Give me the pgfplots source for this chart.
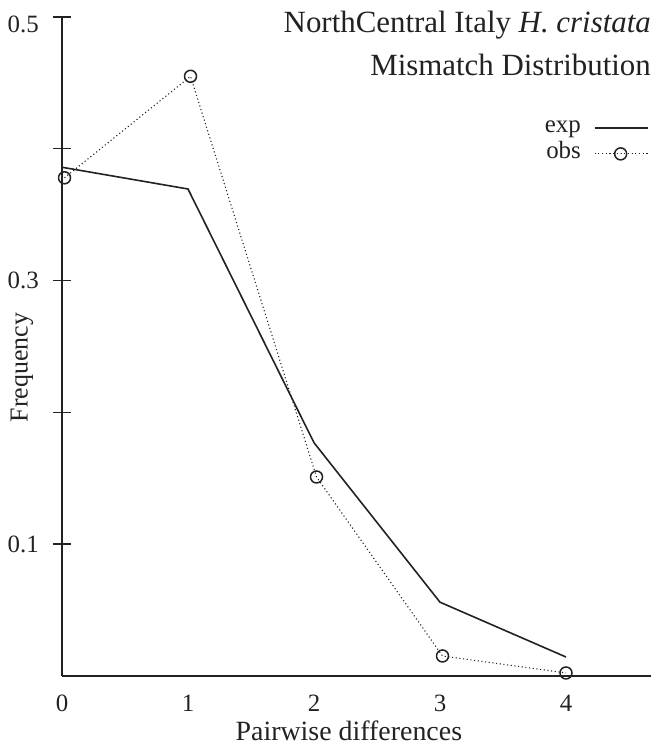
\documentclass[border=0pt]{standalone}
\usepackage{pgfplots}
\pgfplotsset{compat=1.18}
\usepackage{fontspec}
\setmainfont{Liberation Serif}
\definecolor{ink}{HTML}{222222}
\begin{document}
\begin{tikzpicture}
\begin{axis}[
  x=126bp, y=1318bp,
  xmin=0, xmax=4.675, ymin=0, ymax=0.5,
  axis lines*=left,
  axis line style={-, line width=1.6bp, color=ink},
  clip=false,
  xtick={0,1,2,3,4},
  major x tick style={draw=none},
  ytick={0.1,0.2,0.3,0.4,0.5},
  yticklabels={0.1,,0.3,,\raisebox{-7bp}[0.66em][0pt]{0.5}},
  major y tick style={line width=1.4bp, color=ink},
  tick align=center,
  major tick length=18bp,
  /pgf/number format/assume math mode=true,
  ticklabel style={font=\fontsize{25}{28}\selectfont, color=ink},
  xticklabel style={anchor=center, yshift=-18bp},
  yticklabel style={anchor=east, inner sep=0pt, xshift=-14bp},
  xlabel={Pairwise differences},
  ylabel={Frequency},
  label style={font=\fontsize{26}{30}\selectfont, color=ink},
  xlabel style={at={(axis description cs:0.487,-0.083)}, anchor=center, font=\fontsize{28}{32}\selectfont},
  ylabel style={at={(axis description cs:-0.068,0.468)}, anchor=center},
  legend style={draw=none, fill=none, at={(rel axis cs:1.001,0.851)}, anchor=north east,
    font=\fontsize{25}{28}\selectfont, text=ink, row sep=5bp, column sep=12bp,
    nodes={inner sep=1bp, text height=14bp, text depth=5bp}},
  legend cell align=right,
  legend plot pos=right,
  legend image code/.code={\draw[mark repeat=2,mark phase=2,#1] plot coordinates {(0bp,0bp) (26bp,0bp) (53bp,0bp)};},
]
\addplot[ink, line width=1.6bp] coordinates {(0,0.386) (1,0.3695) (2,0.177) (3,0.056) (4,0.0144)};
\addlegendentry{exp}
\addplot[ink, line width=1.1bp, dash pattern=on 1.1bp off 2.6bp, mark=o, mark size=6bp,
  mark options={solid, line width=1.5bp}] coordinates {(0.02,0.378) (1.02,0.455) (2.02,0.151) (3.02,0.0152) (4.0,0.0023)};
\addlegendentry{obs}
\node[anchor=east, inner sep=0pt, font=\fontsize{31}{34}\selectfont, text=ink] at (rel axis cs:1,0.987) {NorthCentral Italy \textit{H. cristata}};
\node[anchor=east, inner sep=0pt, font=\fontsize{31}{34}\selectfont, text=ink] at (rel axis cs:1,0.928) {Mismatch Distribution};
\end{axis}
\pgfresetboundingbox
\path[use as bounding box] (-62bp,-73bp) rectangle (589bp,676bp);
\end{tikzpicture}
\end{document}
